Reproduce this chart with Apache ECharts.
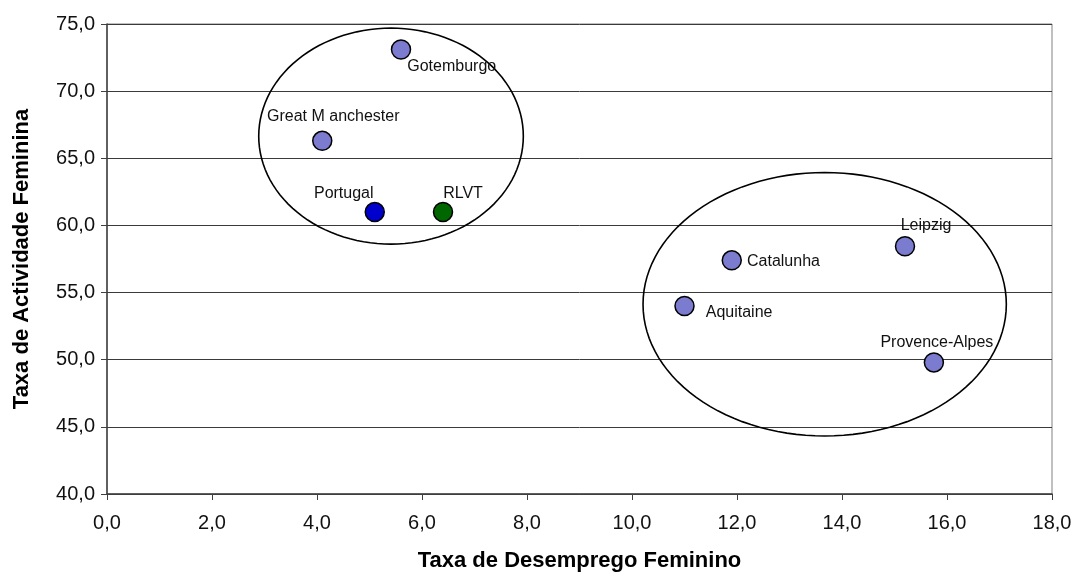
<!DOCTYPE html>
<html>
<head>
<meta charset="utf-8">
<script src="https://cdn.jsdelivr.net/npm/echarts@6/dist/echarts.min.js"></script>
<style>
html,body{margin:0;padding:0;background:#fff;}
#chart{width:1077px;height:578px;}
</style>
</head>
<body>
<div id="chart"></div>
<script>
// ---- data ----
var regionNames = ['Gotemburgo','Great M anchester','Portugal','RLVT','Catalunha','Aquitaine','Leipzig','Provence-Alpes'];
var desemprego  = [5.6, 4.1, 5.1, 6.4, 11.9, 11.0, 15.2, 15.75];
var actividade  = [73.1, 66.3, 61.0, 61.0, 57.4, 54.0, 58.45, 49.8];

// cluster ellipses: centre x, centre y, radius x, radius y (data units)
var ellipseCx = [5.41, 13.67];
var ellipseCy = [66.65, 54.13];
var ellipseRx = [2.52, 3.46];
var ellipseRy = [8.04, 9.81];

var xMin = 0, xMax = 18, xStep = 2;
var yMin = 40, yMax = 75, yStep = 5;

// ---- styles ----
var defaultColor = '#7b7bcf';
var pointColors = { 'Portugal': '#0000cc', 'RLVT': '#006600' };
var labelPlacement = {
  'Gotemburgo':        { position: 'right', offset: [-9, 17] },
  'Great M anchester': { position: 'top',   offset: [11, -1] },
  'Portugal':          { position: 'top',   offset: [-31, 5] },
  'RLVT':              { position: 'top',   offset: [20, 5] },
  'Catalunha':         { position: 'right', offset: [0, 1] },
  'Aquitaine':         { position: 'right', offset: [6, 7] },
  'Leipzig':           { position: 'top',   offset: [21, 3] },
  'Provence-Alpes':    { position: 'top',   offset: [3, 3] }
};

var fmt = function (v) { return v.toFixed(1).replace('.', ','); };
var FONT = '"Liberation Sans", Arial, sans-serif';

var scatterData = regionNames.map(function (n, i) {
  var lp = labelPlacement[n];
  return {
    name: n,
    value: [desemprego[i], actividade[i]],
    itemStyle: { color: pointColors[n] || defaultColor },
    label: { show: true, position: lp.position, offset: lp.offset, distance: 5 }
  };
});

var ellipseData = ellipseCx.map(function (c, i) {
  return [c, ellipseCy[i], ellipseRx[i], ellipseRy[i]];
});

var chart = echarts.init(document.getElementById('chart'), null, { renderer: 'canvas' });
chart.setOption({
  backgroundColor: '#ffffff',
  animation: false,
  grid: { left: 107, right: 25, top: 24, bottom: 84, show: true, borderColor: '#808080', borderWidth: 1, backgroundColor: 'transparent' },
  xAxis: {
    type: 'value', min: xMin, max: xMax, interval: xStep,
    name: 'Taxa de Desemprego Feminino', nameLocation: 'middle', nameGap: 56,
    nameTextStyle: { fontFamily: FONT, fontSize: 22, fontWeight: 'bold', color: '#000' },
    axisLine: { show: true, lineStyle: { color: '#404040', width: 1.5 } },
    axisTick: { show: true, length: 6, lineStyle: { color: '#404040' } },
    axisLabel: { fontFamily: FONT, fontSize: 20, color: '#111', margin: 19, formatter: fmt },
    splitLine: { show: false }
  },
  yAxis: {
    type: 'value', min: yMin, max: yMax, interval: yStep,
    name: 'Taxa de Actividade Feminina', nameLocation: 'middle', nameGap: 74,
    nameTextStyle: { fontFamily: FONT, fontSize: 22, fontWeight: 'bold', color: '#000' },
    axisLine: { show: true, lineStyle: { color: '#404040', width: 1.5 } },
    axisTick: { show: true, length: 6, lineStyle: { color: '#404040' } },
    axisLabel: { fontFamily: FONT, fontSize: 20, color: '#111', margin: 12, formatter: fmt },
    splitLine: { show: true, lineStyle: { color: '#3a3a3a', width: 1 } }
  },
  series: [
    {
      type: 'custom',
      z: 3,
      silent: true,
      data: ellipseData,
      renderItem: function (params, api) {
        var cx = api.value(0), cy = api.value(1), rx = api.value(2), ry = api.value(3);
        var pts = [];
        for (var k = 0; k < 120; k++) {
          var t = k / 120 * Math.PI * 2;
          pts.push(api.coord([cx + rx * Math.cos(t), cy + ry * Math.sin(t)]));
        }
        return {
          type: 'polygon',
          shape: { points: pts, smooth: 0 },
          style: { fill: null, stroke: '#000', lineWidth: 1.6 }
        };
      }
    },
    {
      type: 'scatter',
      z: 5,
      symbol: 'circle',
      symbolSize: 19,
      itemStyle: { borderColor: '#000', borderWidth: 1.5, opacity: 1 },
      label: { fontFamily: FONT, fontSize: 16, color: '#111', formatter: '{b}' },
      data: scatterData
    }
  ]
});
</script>
</body>
</html>
